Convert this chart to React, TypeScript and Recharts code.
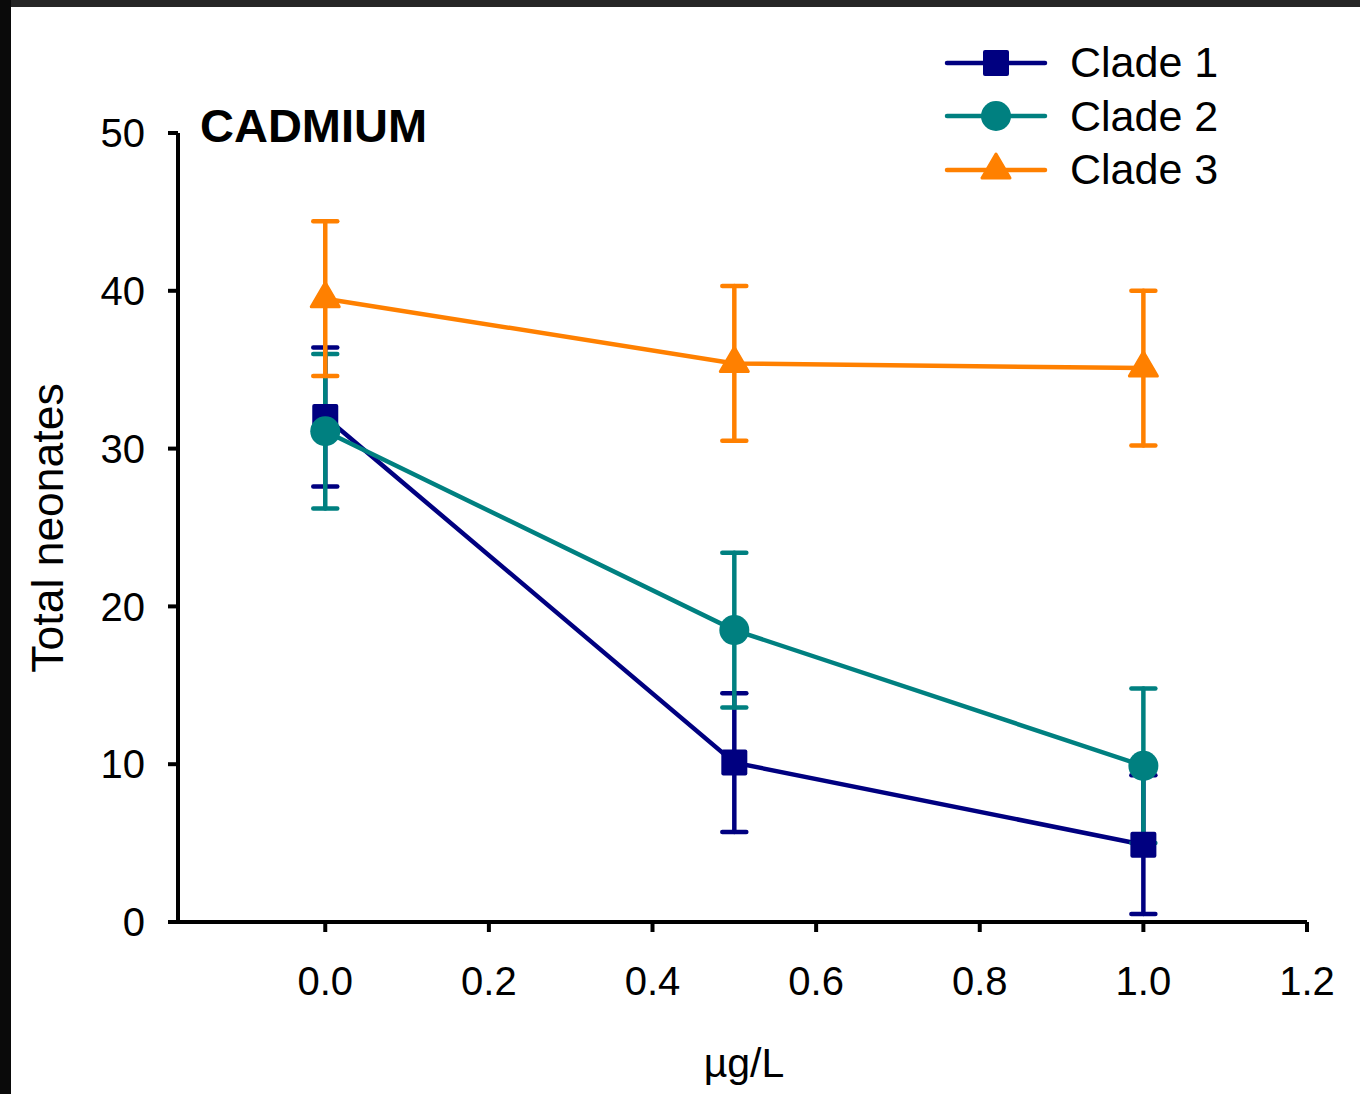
import { LineChart, Line, XAxis, YAxis, ErrorBar, Legend } from "recharts"

const doses = [0, 0.5, 1.0]
const clade1 = [32.0, 10.1, 4.9]
const clade1Err = [4.4, 4.4, 4.4]
const clade2 = [31.1, 18.5, 9.9]
const clade2Err = [4.9, 4.9, 4.9]
const clade3 = [39.5, 35.4, 35.1]
const clade3Err = [4.9, 4.9, 4.9]

const seriesNames = ["Clade 1", "Clade 2", "Clade 3"]
const xTicks = [0, 0.2, 0.4, 0.6, 0.8, 1.0, 1.2]
const yTicks = [0, 10, 20, 30, 40, 50]

const NAVY = "#000080"
const TEAL = "#008080"
const ORANGE = "#ff8000"
const FONT = '"Liberation Sans", Arial, Helvetica, sans-serif'
const LINE_W = 4.5

const data = doses.map((x, i) => ({
  x,
  c1: clade1[i],
  e1: clade1Err[i],
  c2: clade2[i],
  e2: clade2Err[i],
  c3: clade3[i],
  e3: clade3Err[i],
}))

function Marker({ shape, cx, cy, color }: { shape: string; cx: number; cy: number; color: string }) {
  if (shape === "square") {
    return <rect x={cx - 13} y={cy - 13} width={26} height={26} rx={2} fill={color} />
  }
  if (shape === "circle") {
    return <circle cx={cx} cy={cy} r={15} fill={color} />
  }
  // triangle, centred on its centroid
  return (
    <path
      d={`M${cx},${cy - 16} L${cx + 14},${cy + 8} L${cx - 14},${cy + 8} Z`}
      fill={color}
      stroke={color}
      strokeWidth={3}
      strokeLinejoin="round"
    />
  )
}

const makeDot = (shape: string, color: string) => (props: any) => {
  const { cx, cy, index } = props
  if (cx == null || cy == null) return <g key={`d-${shape}-${index}`} />
  return (
    <g key={`d-${shape}-${index}`}>
      <Marker shape={shape} cx={cx} cy={cy} color={color} />
    </g>
  )
}

const legendItems = [
  { shape: "square", color: NAVY },
  { shape: "circle", color: TEAL },
  { shape: "triangle", color: ORANGE },
]

function LegendContent() {
  return (
    <div style={{ fontFamily: FONT }}>
      {seriesNames.map((name, i) => (
        <div key={name} style={{ display: "flex", alignItems: "center", height: 53.5 }}>
          <svg width={104} height={40} style={{ display: "block" }}>
            <line x1={3} y1={20} x2={101} y2={20} stroke={legendItems[i].color} strokeWidth={LINE_W} strokeLinecap="round" />
            <Marker shape={legendItems[i].shape} cx={52} cy={20} color={legendItems[i].color} />
          </svg>
          <span style={{ fontSize: 43, marginLeft: 22, color: "#000", lineHeight: 1 }}>{name}</span>
        </div>
      ))}
    </div>
  )
}

const YTitle = () => (
  <text
    x={63}
    y={528}
    transform="rotate(-90 63 528)"
    textAnchor="middle"
    fontSize={44.5}
    fontFamily={FONT}
    fill="#000"
  >
    Total neonates
  </text>
)

const XTitle = () => (
  <text x={744} y={1077} textAnchor="middle" fontSize={41} fontFamily={FONT} fill="#000">
    µg/L
  </text>
)

export default function App() {
  const axisStyle = { stroke: "#000", strokeWidth: 4 }
  return (
    <div style={{ position: "absolute", left: 0, top: 0, width: 1360, height: 1094, background: "#fff", overflow: "hidden" }}>
      <LineChart
        width={1360}
        height={1094}
        data={data}
        margin={{ top: 133, right: 53, left: 0, bottom: 112 }}
      >
        <XAxis
          type="number"
          dataKey="x"
          domain={[-0.18, 1.2]}
          ticks={xTicks}
          allowDataOverflow
          height={60}
          axisLine={axisStyle}
          tickLine={axisStyle}
          tickSize={10}
          tickMargin={35}
          tick={{ fontSize: 40, fill: "#000", fontFamily: FONT }}
          tickFormatter={(v: number) => v.toFixed(1)}
          label={{ content: XTitle }}
        />
        <YAxis
          type="number"
          domain={[0, 50]}
          ticks={yTicks}
          width={178}
          axisLine={axisStyle}
          tickLine={axisStyle}
          tickSize={10}
          tickMargin={23}
          tick={{ fontSize: 40, fill: "#000", fontFamily: FONT }}
          label={{ content: YTitle }}
        />
        <Legend
          layout="vertical"
          align="center"
          verticalAlign="middle"
          content={LegendContent}
          wrapperStyle={{ position: "absolute", left: 944, top: 36, width: 320 }}
        />
        <Line
          type="linear"
          dataKey="c1"
          name={seriesNames[0]}
          stroke={NAVY}
          strokeWidth={LINE_W}
          dot={makeDot("square", NAVY)}
          activeDot={false}
          isAnimationActive={false}
        >
          <ErrorBar dataKey="e1" direction="y" width={12} stroke={NAVY} strokeWidth={LINE_W} strokeLinecap="round" />
        </Line>
        <Line
          type="linear"
          dataKey="c2"
          name={seriesNames[1]}
          stroke={TEAL}
          strokeWidth={LINE_W}
          dot={makeDot("circle", TEAL)}
          activeDot={false}
          isAnimationActive={false}
        >
          <ErrorBar dataKey="e2" direction="y" width={12} stroke={TEAL} strokeWidth={LINE_W} strokeLinecap="round" />
        </Line>
        <Line
          type="linear"
          dataKey="c3"
          name={seriesNames[2]}
          stroke={ORANGE}
          strokeWidth={LINE_W}
          dot={makeDot("triangle", ORANGE)}
          activeDot={false}
          isAnimationActive={false}
        >
          <ErrorBar dataKey="e3" direction="y" width={12} stroke={ORANGE} strokeWidth={LINE_W} strokeLinecap="round" />
        </Line>
      </LineChart>
      <div
        style={{
          position: "absolute",
          left: 200,
          top: 102,
          fontFamily: FONT,
          fontWeight: "bold",
          fontSize: 47,
          lineHeight: 1,
          color: "#000",
        }}
      >
        CADMIUM
      </div>
      <div style={{ position: "absolute", left: 0, top: 0, width: 1360, height: 7, background: "#262626" }} />
      <div style={{ position: "absolute", left: 0, top: 0, width: 11, height: 1094, background: "#0a0a0a" }} />
    </div>
  )
}
